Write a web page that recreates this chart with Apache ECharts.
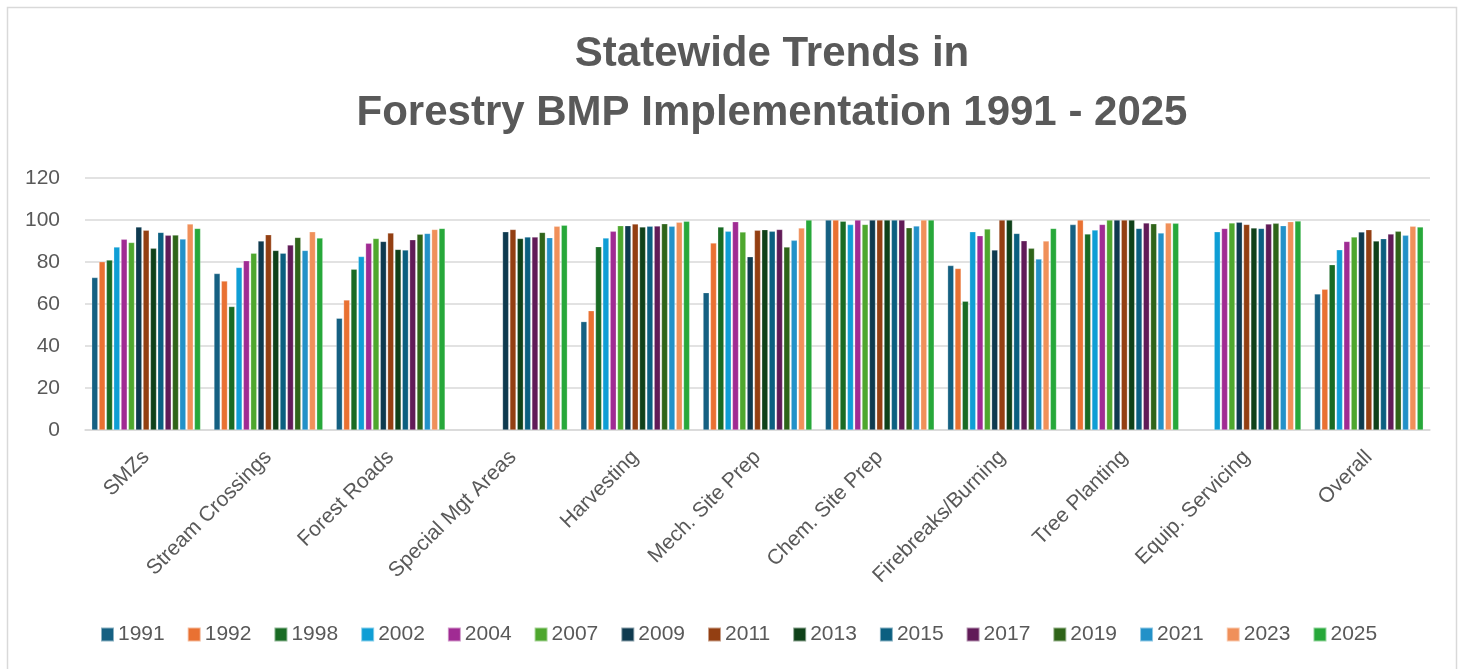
<!DOCTYPE html>
<html>
<head>
<meta charset="utf-8">
<style>
html,body{margin:0;padding:0;background:#fff;}
#chart{width:1460px;height:669px;}
</style>
<script src="https://cdn.jsdelivr.net/npm/echarts@6/dist/echarts.min.js"></script>
</head>
<body>
<div id="chart"></div>
<script>
const categories = ["SMZs","Stream Crossings","Forest Roads","Special Mgt Areas","Harvesting","Mech. Site Prep","Chem. Site Prep","Firebreaks/Burning","Tree Planting","Equip. Servicing","Overall"];
const years = ["1991","1992","1998","2002","2004","2007","2009","2011","2013","2015","2017","2019","2021","2023","2025"];
const yTicks = [0,20,40,60,80,100,120];

// values per year, in category order
const v1991 = [72.6, 74.5, 53.2, null, 51.6, 65.4, 100, 78.3, 97.8, null, 64.8];
const v1992 = [80.1, 70.9, 61.9, null, 56.8, 89.0, 100, 76.9, 100, null, 67.0];
const v1998 = [80.9, 58.8, 76.6, null, 87.3, 96.7, 99.4, 61.3, 93.3, null, 78.7];
const v2002 = [87.1, 77.4, 82.6, null, 91.4, 94.6, 97.8, 94.4, 95.2, 94.4, 85.8];
const v2004 = [90.8, 80.6, 88.9, null, 94.6, 99.2, 100, 92.5, 97.9, 96.0, 89.8];
const v2007 = [89.3, 84.2, 91.2, null, 97.3, 94.3, 97.9, 95.7, 100, 98.6, 91.9];
const v2009 = [96.7, 90.0, 89.8, 94.4, 97.3, 82.5, 100, 85.7, 100, 98.9, 94.3];
const v2011 = [95.1, 93.0, 93.8, 95.5, 98.1, 95.1, 100, 100, 100, 97.9, 95.4];
const v2013 = [86.5, 85.5, 86.0, 91.2, 96.7, 95.4, 100, 100, 100, 96.2, 90.0];
const v2015 = [94.1, 84.2, 85.7, 91.9, 97.0, 94.6, 100, 93.6, 96.0, 96.0, 91.1];
const v2017 = [92.7, 88.1, 90.6, 91.9, 97.1, 95.5, 100, 90.1, 98.6, 98.1, 93.3];
const v2019 = [92.8, 91.7, 93.2, 94.1, 98.2, 87.1, 96.3, 86.5, 98.2, 98.4, 94.6];
const v2021 = [90.9, 85.5, 93.6, 91.6, 97.0, 90.3, 97.1, 81.4, 93.8, 97.3, 92.7];
const v2023 = [98.1, 94.4, 95.5, 97.0, 98.9, 96.2, 100, 90.0, 98.6, 99.2, 97.0];
const v2025 = [96.0, 91.4, 96.0, 97.5, 99.4, 100, 100, 96.0, 98.4, 99.5, 96.7];

const seriesValues = [v1991,v1992,v1998,v2002,v2004,v2007,v2009,v2011,v2013,v2015,v2017,v2019,v2021,v2023,v2025];
const colors = ["#156082","#E97132","#196B24","#0F9ED5","#A02B93","#4EA72E","#0E3A4F","#933F12","#0F4119","#0B5F80","#611B58","#2F6419","#2391C8","#F0905A","#27A83A"];

const FONT = "'Liberation Sans', Arial, sans-serif";
const chart = echarts.init(document.getElementById('chart'), null, {renderer:'canvas'});
chart.setOption({
  backgroundColor:'#ffffff',
  animation:false,
  color: colors,
  graphic:[
    {type:'rect', shape:{x:7.5,y:7.5,width:1449,height:670}, style:{fill:'none', stroke:'#d9d9d9', lineWidth:1.5}, silent:true}
  ],
  title:{
    text:'Statewide Trends in\nForestry BMP Implementation 1991 - 2025',
    left:767, top:20, textAlign:'center',
    textStyle:{fontFamily:FONT, fontSize:42, fontWeight:'bold', color:'#595959', lineHeight:59}
  },
  grid:{left:85, right:30, top:178, bottom:239, containLabel:false},
  legend:{
    data: years,
    left:95, top:619,
    itemWidth:13, itemHeight:14, itemGap:22,
    icon:'rect',
    textStyle:{fontFamily:FONT, fontSize:21, color:'#595959', padding:[0,0,0,-1]}
  },
  xAxis:{
    type:'category', data:categories,
    axisLine:{lineStyle:{color:'#d9d9d9', width:1.5}},
    axisTick:{show:false},
    axisLabel:{rotate:45, interval:0, margin:24, fontFamily:FONT, fontSize:21, color:'#595959'}
  },
  yAxis:{
    type:'value', min:0, max:120, interval:20,
    axisLine:{show:false}, axisTick:{show:false},
    splitLine:{lineStyle:{color:'#d9d9d9', width:1.5}},
    axisLabel:{margin:25, fontFamily:FONT, fontSize:21, color:'#595959'}
  },
  series: years.map((y,i)=>({
    name:y, type:'bar', data:seriesValues[i],
    barGap:'20%', barCategoryGap:'11%',
    itemStyle:{borderColor:'rgba(255,255,255,0.5)', borderWidth:0.5}
  }))
});
</script>
</body>
</html>
